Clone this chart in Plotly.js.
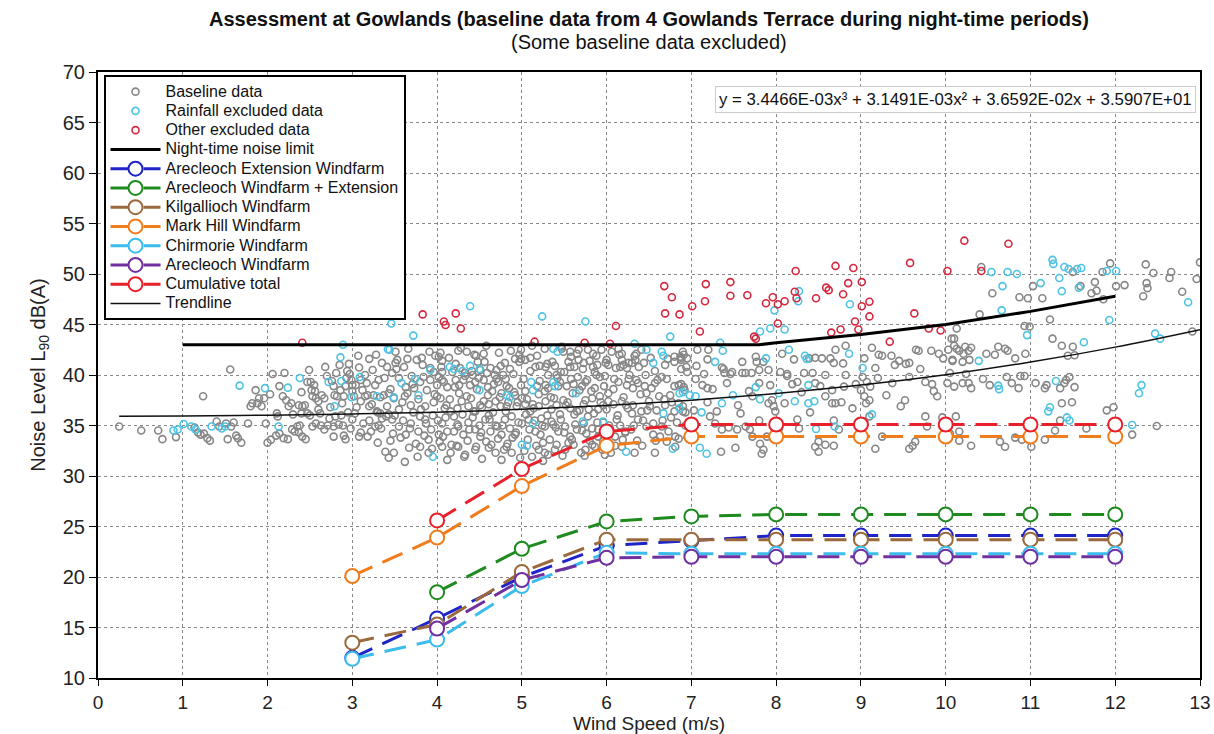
<!DOCTYPE html>
<html>
<head>
<meta charset="utf-8">
<script src="https://cdn.plot.ly/plotly-3.0.1.min.js"></script>
<style>
html,body{margin:0;padding:0;background:#fff;}
#chart{width:1214px;height:734px;}
text.legendtext{font-size:16px !important;}
</style>
</head>
<body>
<div id="chart"></div>
<script>
// ---------- DATA ----------
const windSpeeds = [3,4,5,6,7,8,9,10,11,12];
const arecleochExt   = [12.0,15.9,20.0,23.1,23.6,24.1,24.1,24.1,24.1,24.1];
const arecleochPlusExt = [null,18.5,22.8,25.5,26.0,26.2,26.2,26.2,26.2,26.2];
const kilgallioch    = [13.5,15.3,20.5,23.7,23.7,23.7,23.7,23.7,23.7,23.7];
const markHill       = [20.1,23.9,29.0,33.0,33.9,33.9,33.9,33.9,33.9,33.9];
const chirmorie      = [11.9,13.8,19.1,22.4,22.3,22.3,22.3,22.3,22.3,22.3];
const arecleoch      = [null,14.9,19.7,21.9,22.0,22.0,22.0,22.0,22.0,22.0];
const cumulative     = [null,25.6,30.7,34.4,35.1,35.1,35.1,35.1,35.1,35.1];

const limitX = [1,2,3,4,5,6,7,7.8,8,9,10,11,12];
const limitY = [43,43,43,43,43,43,43,43,43.2,44.0,45.0,46.3,47.8];

const trendX = [0.25,1,2,3,4,5,6,7,8,9,10,11,12,13];
const trendY = [35.92,35.95,36.02,36.14,36.32,36.60,36.98,37.50,38.17,39.00,40.03,41.28,42.76,44.49];

const equationText = "y = 3.4466E-03x³ + 3.1491E-03x² + 3.6592E-02x + 3.5907E+01";

// baseline points (wind speed, dB) pairs
const baselinePts = [
0.25,34.9, 0.51,34.5, 0.71,34.5, 0.76,33.65, 0.92,33.85, 1.24,37.9, 1.56,40.55, 1.21,34.1, 1.25,34.2, 1.29,33.75, 1.32,33.5, 1.14,34.8, 1.18,34.3, 1.40,35.4, 1.43,34.9, 1.51,35.2, 1.57,34.9, 1.6,35.3, 1.53,33.65, 1.65,33.75, 1.69,33.3, 1.63,34.0, 1.77,35.2, 1.8,36.9, 1.82,37.2, 1.88,37.2, 1.9,37.7, 1.86,38.5, 1.96,37.7, 1.93,36.9, 1.98,35.2, 2.0,33.3, 2.04,33.6, 2.06,40.1, 2.03,38.1, 2.14,38.9, 2.18,37.9, 2.22,37.5, 2.25,36.9, 2.28,37.2, 2.11,36.2, 2.12,35.9, 2.1,34.0, 2.14,34.2, 2.19,33.75, 2.24,33.65, 2.29,34.6, 2.35,34.9, 2.32,34.4, 2.37,34.3, 2.38,35.0, 2.37,37.0, 2.41,36.9, 2.44,37.0, 2.47,39.3, 2.49,40.5, 2.51,39.3, 2.52,38.5, 2.53,37.9, 2.56,38.4, 2.57,37.7, 2.6,37.4, 2.64,38.0, 2.67,37.7, 2.47,36.2, 2.4,36.2, 2.41,33.9, 2.45,33.65, 2.53,34.9, 2.57,35.2, 2.63,35.0, 2.67,34.6, 2.71,35.0, 2.78,33.9, 2.78,34.9, 2.73,35.7, 2.76,39.4, 2.78,38.9, 2.79,38.0, 2.82,37.9, 2.86,38.5, 2.88,37.2, 2.9,37.9, 2.92,38.9, 2.93,39.7, 2.94,40.4, 2.97,40.1, 2.99,39.5, 3.0,38.4, 3.02,37.9, 3.04,39.0, 3.08,40.75, 3.1,39.5, 3.12,38.5, 3.15,37.9, 3.18,38.0, 3.2,36.9, 3.24,40.5, 3.27,39.0, 3.31,39.5, 3.33,37.8, 3.37,38.0, 3.41,40.8, 3.43,38.2, 3.41,36.9, 2.89,35.0, 2.9,34.0, 2.84,35.1, 2.92,33.65, 2.98,34.7, 3.08,33.9, 3.18,33.9, 3.22,34.4, 3.27,34.9, 3.31,35.0, 3.33,36.2, 3.35,35.7, 3.39,32.4, 3.43,31.8, 3.29,36.4, 3.43,36.1,
4.04,42.2, 4.25,42.4, 4.35,42.3, 4.46,41.9, 4.55,42.1, 4.87,42.4, 4.99,42.5, 4.97,42.0, 5.27,42.6, 5.47,42.8, 5.49,42.3, 5.57,42.3, 5.67,42.5, 5.78,42.5, 5.84,42.1, 5.94,42.5, 6.14,42.6, 6.18,42.1, 6.35,42.1, 6.41,42.5, 6.8,41.8, 6.9,42.3, 6.88,41.7, 3.51,42.3, 3.53,41.5, 3.65,41.6, 3.76,41.5, 3.82,41.7,
4.02,41.8, 4.06,41.4, 3.92,40.7, 3.96,40.3, 4.02,39.8, 4.06,40.3, 4.22,41.1, 4.27,40.7, 4.33,40.2, 4.42,40.0, 4.48,41.3, 4.51,40.5, 4.59,40.2, 4.63,40.7, 4.68,40.0, 4.7,39.6, 4.75,40.9, 4.78,40.0, 4.81,39.6, 4.92,41.6, 4.97,41.3, 5.04,41.5, 5.1,41.7, 5.16,40.8, 5.21,40.9, 5.28,40.8, 5.31,40.0, 5.39,40.9, 5.41,40.0, 5.46,40.3, 5.55,41.3, 5.62,40.8, 5.67,41.5, 5.73,41.2, 5.8,41.4, 5.84,40.8, 5.88,40.0, 5.89,41.0, 6.0,41.5, 6.02,41.0, 6.11,40.7, 6.18,41.5, 6.2,41.0, 6.24,40.7, 6.26,41.2, 6.3,41.2, 6.34,41.5, 6.38,40.8, 6.44,41.2, 6.57,40.4, 6.65,39.8, 6.69,41.0, 6.8,41.3, 6.88,41.5, 6.94,40.8, 3.51,41.2, 3.61,40.8, 3.47,40.2,
3.55,39.7, 3.63,38.8, 3.71,39.1, 3.8,39.3, 3.92,39.5, 4.0,39.0, 4.06,39.5, 4.12,38.8, 4.22,39.5, 4.26,39.0, 4.31,39.5, 4.39,39.0, 4.45,39.3, 4.55,39.5, 4.6,38.8, 4.65,38.4, 4.72,39.3, 4.82,38.9, 4.91,38.3, 4.99,39.0, 5.04,38.4, 5.18,38.9, 5.27,38.4, 5.31,38.7, 5.45,39.3, 5.53,38.9, 5.58,39.6, 5.61,39.1, 5.71,38.9, 5.75,39.3, 5.86,38.7, 5.92,39.8, 5.97,38.9, 6.02,38.2, 6.14,39.3, 6.24,39.0, 6.31,38.7, 6.35,39.5, 6.45,38.9, 6.47,38.2, 6.53,38.7, 6.57,39.2, 6.75,38.0, 6.88,39.1, 6.92,38.5,
3.49,37.7, 3.59,37.3, 3.69,37.0, 3.78,37.6, 3.86,36.9, 3.96,37.3, 4.04,37.7, 4.09,36.7, 4.16,36.4, 4.24,36.7, 4.29,37.4, 4.37,36.9, 4.45,36.4, 4.51,37.0, 4.61,37.1, 4.69,37.4, 4.75,36.9, 4.81,36.4, 4.84,37.3, 4.94,36.9, 5.0,37.7, 5.04,37.1, 5.1,36.4, 5.2,36.9, 5.28,37.4, 5.35,36.6, 5.41,37.0, 5.49,37.5, 5.57,36.7, 5.65,36.4, 5.73,37.1, 5.83,37.7, 5.9,36.6, 5.96,37.0, 6.08,37.1, 6.18,37.4, 6.25,36.7, 6.31,37.0, 6.41,36.4, 6.51,36.9, 6.59,36.5, 6.69,37.0, 6.8,36.4, 6.9,36.4,
3.47,35.6, 3.55,34.9, 3.63,34.1, 3.69,35.2, 3.78,34.4, 3.86,35.6, 3.93,34.6, 4.02,34.1, 4.06,35.2, 4.12,34.4, 4.2,35.9, 4.25,34.9, 4.31,34.1, 4.37,35.3, 4.45,34.6, 4.51,33.9, 4.57,35.6, 4.63,34.4, 4.69,35.0, 4.76,34.1, 4.8,35.6, 4.86,34.7, 4.92,34.1, 5.0,35.2, 5.08,35.6, 5.16,34.4, 5.22,34.1, 5.27,34.9, 5.35,35.4, 5.43,34.4, 5.51,34.9, 5.57,33.9, 5.65,34.6, 5.73,35.2, 5.76,34.2, 5.83,34.7, 5.9,33.9, 5.96,35.3, 6.04,34.7, 6.1,33.9, 6.16,35.0, 6.22,34.4, 6.29,34.6, 6.37,35.6, 6.47,34.9, 6.55,34.1, 6.65,34.9, 6.73,34.4, 6.81,33.9,
3.49,32.3, 3.62,31.4, 3.67,32.8, 3.8,32.9, 3.9,32.3, 4.06,32.9, 4.16,32.3, 4.25,32.9, 4.33,32.1, 4.45,32.6, 4.53,31.7, 4.61,32.8, 4.69,32.3, 4.76,31.6, 4.82,32.9, 4.88,32.3, 5.12,31.9, 5.2,32.6, 5.25,33.3, 5.31,32.1, 5.41,33.1, 5.51,32.6, 5.61,33.1, 5.75,32.6, 5.86,32.9, 5.98,32.1, 6.04,33.1, 6.18,32.9, 6.33,32.3, 6.57,32.3, 6.71,33.4, 6.81,32.9,
3.5,36.0, 3.55,36.6, 3.6,35.5, 3.65,38.2, 3.7,39.9, 3.72,36.3, 3.75,33.2, 3.8,35.9, 3.83,41.0, 3.85,34.0, 3.88,38.5, 3.9,33.6, 3.95,36.0, 3.98,41.9, 4.0,37.9, 4.03,33.4, 4.08,39.3, 4.1,35.8, 4.12,31.6, 4.15,37.6, 4.18,40.3, 4.2,34.4, 4.23,33.0, 4.26,38.2, 4.3,36.1, 4.33,39.9, 4.36,33.5, 4.4,37.7, 4.42,35.8, 4.44,42.0, 4.47,38.6, 4.5,35.0, 4.53,36.8, 4.56,41.3, 4.58,33.4, 4.6,38.0, 4.62,35.6, 4.66,36.3, 4.7,40.5, 4.72,33.7, 4.74,37.8, 4.77,35.0, 4.8,41.2, 4.83,33.2, 4.85,38.7, 4.88,35.9, 4.9,40.1, 4.93,34.3, 4.95,37.3, 4.98,31.8, 5.02,39.6, 5.05,36.1, 5.07,33.6, 5.1,40.4, 5.13,37.1, 5.15,35.5, 5.18,41.9, 5.2,38.1, 5.23,35.7, 5.25,31.5, 5.28,39.0, 5.3,36.0, 5.33,33.6, 5.36,41.3, 5.38,37.7, 5.4,34.8, 5.43,38.9, 5.46,35.6, 5.48,32.0, 5.5,40.3, 5.52,37.0, 5.55,33.3, 5.58,41.8, 5.6,38.2, 5.63,35.1, 5.66,39.8, 5.68,36.5, 5.7,32.3, 5.72,40.6, 5.75,37.5, 5.78,35.9, 5.8,33.5, 5.82,38.4, 5.85,36.2, 5.88,41.9, 5.9,34.6, 5.92,37.9, 5.95,32.6, 5.98,39.9, 6.0,36.6, 6.03,35.0, 6.06,42.3, 6.08,38.6, 6.1,33.0, 6.13,36.0, 6.16,40.8, 6.2,37.8, 6.22,34.3, 6.26,39.6, 6.3,36.2, 6.33,41.9, 6.36,33.5, 6.4,38.1, 6.43,35.5, 6.46,40.0, 6.5,37.4, 6.55,35.2, 6.6,39.5, 6.63,33.9, 6.68,37.6, 6.72,41.6, 6.76,35.8, 6.8,38.9, 6.85,33.7, 6.9,36.9, 6.95,40.3, 2.95,36.3, 3.0,35.6, 3.05,36.8, 3.1,34.3, 3.15,40.0, 3.2,35.5, 3.25,38.0, 3.3,33.3, 3.35,41.2, 3.4,35.9, 3.45,38.6, 3.48,34.2, 3.0,39.0, 3.1,37.4, 3.2,41.6, 3.3,36.3, 2.6,36.6, 2.7,39.9, 2.8,35.9, 2.85,41.0, 2.5,36.0, 2.4,38.3, 2.3,36.1, 2.2,40.2,
3.52,40.6, 3.57,33.8, 3.62,37.9, 3.66,42.6, 3.68,34.7, 3.73,38.7, 3.77,31.9, 3.81,36.6, 3.84,39.8, 3.87,35.2, 3.91,42.3, 3.94,32.7, 3.97,38.1, 4.01,35.5, 4.05,40.8, 4.07,33.9, 4.11,37.0, 4.14,41.7, 4.17,33.1, 4.21,38.8, 4.24,35.1, 4.28,42.7, 4.32,31.9, 4.35,37.9, 4.38,34.6, 4.41,40.4, 4.43,36.4, 4.46,32.9, 4.49,39.7, 4.52,34.3, 4.55,37.4, 4.58,42.9, 4.61,36.0, 4.64,33.1, 4.67,39.1, 4.71,34.9, 4.73,42.2, 4.76,38.2, 4.79,32.6, 4.82,36.9, 4.86,40.6, 4.89,33.8, 4.92,38.0, 4.96,35.3, 4.99,41.6, 5.03,32.5, 5.06,37.6, 5.09,34.6, 5.12,42.9, 5.14,36.7, 5.17,33.0, 5.21,39.4, 5.24,35.0, 5.27,32.3, 5.3,41.1, 5.34,37.8, 5.37,35.1, 5.39,32.6, 5.42,39.7, 5.45,36.1, 5.47,42.6, 5.5,34.3, 5.54,37.3, 5.57,40.8, 5.59,33.6, 5.62,36.1, 5.65,42.1, 5.68,38.5, 5.71,34.5, 5.74,32.0, 5.77,39.5, 5.79,36.6, 5.83,33.1, 5.86,40.3, 5.89,35.3, 5.93,37.3, 5.96,33.5, 5.99,41.2, 6.02,37.4, 6.05,32.3, 6.09,39.6, 6.12,35.6, 6.15,42.0, 6.19,33.6, 6.23,37.0, 6.27,40.0, 6.32,35.0, 6.37,39.2, 6.42,33.0, 6.48,36.5, 6.52,41.7, 6.58,33.5, 6.62,37.9, 6.66,35.5, 6.71,39.6, 6.77,37.3, 6.83,35.3, 6.88,40.6, 6.93,35.0, 2.55,39.0, 2.62,36.2, 2.68,40.8, 2.74,36.8, 2.81,40.2, 2.87,36.0, 2.96,41.1, 3.03,36.2, 3.07,41.9, 3.13,35.2, 3.17,39.2, 3.23,37.1, 3.28,42.0, 3.34,34.7, 3.38,39.7, 3.45,33.5, 7.05,39.6, 7.15,40.1, 7.25,38.6, 7.3,36.4, 7.42,39.2, 7.55,37.0, 7.58,36.2, 7.68,38.4, 7.72,37.9, 8.1,37.2, 8.3,38.3, 8.4,36.3, 8.52,38.9, 8.9,36.7, 9.3,38.0, 9.4,41.0, 9.52,37.5, 9.7,40.6, 9.86,38.4,
6.87,41.8, 6.91,42.0, 6.95,41.65, 7.07,42.5, 7.2,42.5, 7.06,40.9, 7.19,41.55, 7.36,40.75, 7.39,40.2, 7.46,40.1, 7.6,41.3, 7.6,40.2, 7.76,41.8, 7.77,41.3, 7.85,41.3, 7.91,40.5, 7.8,40.5, 8.07,42.1, 8.13,40.1, 8.21,41.55, 8.39,41.65, 8.46,41.7, 8.54,41.65, 8.64,41.65, 8.68,41.2, 8.79,41.15, 8.82,42.9, 8.7,42.5, 9.04,41.65, 9.13,42.7, 9.21,42.0, 9.25,41.9, 9.36,41.9, 9.45,41.4, 9.53,41.1, 9.57,41.2, 9.65,42.5, 9.68,42.4, 9.83,42.4, 9.92,42.1, 9.97,41.65, 10.03,42.5, 10.08,41.4,
6.85,39.0, 6.91,38.8, 7.13,39.0, 7.19,38.7, 7.38,40.6, 7.48,40.3, 7.64,40.2, 7.71,40.2, 7.8,39.2, 7.93,39.0, 7.95,37.5, 8.05,40.3, 8.13,39.9, 8.19,39.1, 8.25,39.3, 8.33,40.2, 8.43,40.2, 8.46,39.2, 8.58,40.0, 8.66,38.5, 8.58,37.9, 8.7,37.2, 8.8,38.85, 8.77,37.3, 8.66,37.2, 8.82,40.0, 8.94,39.1, 9.0,38.5, 9.02,39.8, 9.07,39.3, 9.11,38.85, 9.17,40.7, 9.2,39.7, 9.04,37.9, 9.06,37.2, 9.1,37.5, 9.37,39.2, 9.47,36.9, 9.57,39.8, 9.76,39.3, 9.84,39.1, 9.9,37.9, 10.02,39.2, 10.1,38.85, 10.07,43.6, 10.1,42.9,
6.85,37.2, 6.93,36.3, 7.03,36.5, 7.19,37.3, 7.22,35.9, 7.28,35.2, 7.36,34.6, 7.44,34.8, 7.54,34.6, 7.64,34.9, 7.69,34.6, 7.8,35.5, 7.81,33.2, 7.85,32.6, 7.83,32.2, 7.89,33.9, 7.91,37.2, 7.97,36.9, 7.99,36.4, 8.27,34.7, 8.5,32.4, 8.58,33.1, 8.5,33.4, 8.46,32.9, 8.68,33.0, 8.68,35.5, 8.74,34.6, 9.04,35.4, 9.1,35.9, 9.17,32.7, 9.25,33.9, 9.57,32.7, 9.61,33.0, 9.64,33.4, 9.78,34.9, 9.76,35.9, 9.96,35.8, 9.98,34.9, 10.12,35.9, 10.16,34.4, 8.25,35.6, 8.03,34.6, 7.35,32.4, 7.52,32.8, 7.72,33.9,
11.94,51.05, 12.36,50.95, 12.45,50.1, 12.66,50.2, 12.64,49.6, 13.0,51.15, 12.96,49.5, 12.37,49.1, 12.38,48.6, 12.33,47.8, 12.79,48.25, 12.11,48.9, 12.01,48.8, 11.85,50.2, 11.76,49.2, 11.78,48.35, 11.72,48.1, 11.86,47.5, 11.59,48.8, 11.5,50.2, 11.03,48.8, 10.97,47.6, 10.87,47.7, 11.14,47.6, 10.55,48.1, 10.4,46.0, 11.23,45.5, 10.93,44.85, 10.99,44.8, 10.42,50.7, 10.13,44.6, 10.1,43.6, 10.13,42.6, 10.16,42.4, 10.23,42.8, 10.21,42.1, 10.27,42.4, 10.3,42.7, 10.28,41.5, 10.2,41.3, 10.08,41.5, 10.48,42.1, 10.58,42.0, 10.62,42.8, 10.7,42.6, 10.73,42.4, 10.82,41.65, 10.94,42.1, 11.26,43.6, 11.37,42.9, 11.5,42.8, 11.44,41.9, 11.52,41.95, 12.91,44.3,
10.05,40.2, 10.24,40.1, 10.2,39.2, 10.27,39.2, 10.3,38.7, 10.44,39.6, 10.52,39.0, 10.72,39.8, 10.78,39.2, 10.86,38.7, 10.88,39.9, 10.93,39.9, 11.06,39.2, 11.17,38.7, 11.19,39.0, 11.35,38.7, 11.4,39.2, 11.46,39.8, 11.52,38.8, 11.42,39.5, 11.37,37.2, 11.49,37.3, 11.35,35.5, 11.29,34.5, 11.66,34.7, 11.9,36.5, 11.98,36.8, 12.2,34.1, 12.49,34.95, 10.64,33.4, 10.7,32.9, 10.3,33.0, 10.16,33.5, 11.01,32.9, 11.17,33.6, 10.9,33.6, 10.82,33.8, 10.05,34.2
];

const rainfallPts = [
3.46,45.1, 2.89,43.0, 3.42,42.55, 2.86,41.75, 1.67,38.95, 1.97,38.7, 2.24,38.75, 2.38,39.7, 2.72,39.3, 2.87,39.4, 3.09,39.8, 3.29,37.9, 3.49,37.8, 2.99,37.8, 2.79,36.9, 0.89,34.5, 0.94,34.6, 1.01,35.15, 1.10,34.9, 1.15,34.6, 1.34,34.9, 1.46,34.7, 1.5,34.9, 2.13,34.9,
4.39,46.8, 3.72,43.9, 5.24,45.8, 5.75,45.3, 6.75,43.8, 6.33,43.1, 5.37,42.6, 5.42,42.3, 4.15,40.8, 4.2,40.6, 4.39,40.9, 4.5,40.6, 4.3,40.4, 3.92,40.5, 3.74,39.6, 3.58,39.2, 3.78,38.0, 4.5,38.5, 4.82,38.0, 4.86,37.8, 5.11,39.3, 5.13,38.5, 5.37,39.3, 5.39,38.9, 5.64,38.2, 5.13,35.2, 5.0,33.1, 5.06,33.0, 3.95,31.9, 5.72,35.4, 6.65,42.3, 6.67,41.9, 6.55,41.2, 6.86,38.2, 6.86,36.7, 6.67,36.2, 6.78,32.7, 6.23,32.4, 5.96,35.4, 6.47,42.5, 3.44,42.5,
7.98,46.4, 7.93,44.6, 7.81,44.3, 8.1,44.5, 8.27,48.3, 8.26,47.3, 8.87,47.0, 7.34,43.2, 7.37,42.4, 7.28,41.3, 7.88,41.65, 8.15,42.5, 8.34,41.9, 8.36,41.6, 8.86,42.1, 9.02,40.7, 8.38,39.0, 8.22,37.4, 8.38,37.2, 8.45,37.4, 7.81,37.6, 7.76,38.8, 7.49,38.0, 7.36,37.2, 6.98,38.0, 7.05,37.9, 6.9,38.3, 7.12,36.3, 7.1,32.8, 7.18,32.2, 9.13,36.1, 8.47,34.65, 8.69,34.9, 8.03,38.2,
11.26,51.4, 11.27,51.0, 11.4,50.7, 11.45,50.5, 11.6,50.6, 11.55,50.5, 10.54,50.2, 10.73,50.2, 10.84,50.0, 12.01,50.3, 11.9,50.3, 10.67,48.8, 11.12,49.1, 11.34,49.6, 11.37,48.3, 11.57,48.65, 10.66,46.4, 11.93,45.45, 10.96,43.95, 11.63,43.25, 12.47,44.1, 12.53,43.6, 12.86,47.2, 10.39,41.4, 10.62,38.95, 10.63,38.6, 11.3,39.4, 12.31,39.0, 12.28,38.2, 11.23,36.8, 11.21,36.4, 11.43,35.8, 11.46,35.5, 12.2,35.05
];

const otherPts = [
2.41,43.2, 3.83,46.0, 4.08,45.3, 4.10,44.95, 4.22,46.1, 4.28,44.6, 5.15,43.3, 5.74,43.2, 6.04,43.1, 6.11,44.85, 6.68,48.8, 6.77,47.7, 6.69,46.1, 6.86,46.0, 7.01,46.8, 7.17,49.0, 7.16,47.3, 7.1,44.3, 7.46,49.2, 7.46,47.85, 7.66,47.9, 7.88,47.1, 7.96,47.7, 8.02,47.0, 8.1,47.3, 8.22,48.25, 8.24,47.6, 8.02,45.1, 7.76,43.6, 7.74,43.8, 8.23,50.3, 8.47,47.6, 8.59,48.65, 8.62,48.4, 8.70,50.8, 8.79,48.0, 8.85,49.1, 8.91,50.6, 9.01,49.2, 9.10,47.25, 9.01,46.8, 9.10,45.8, 8.93,45.3, 8.97,44.5, 8.76,44.5, 8.65,44.2, 9.34,43.3, 9.58,51.1, 9.63,46.1, 9.80,44.6, 9.94,44.4, 10.02,50.3, 10.22,53.3, 10.74,53.0, 10.42,50.3
];

// ---------- BUILD ----------
function split(arr){ const x=[],y=[]; for(let i=0;i<arr.length;i+=2){x.push(arr[i]);y.push(arr[i+1]);} return {x,y}; }
const FONT = "Arial, 'Liberation Sans', sans-serif";
const base = split(baselinePts), rain = split(rainfallPts), other = split(otherPts);

function pts(name, d, col){
  return {type:'scatter', mode:'markers', name, x:d.x, y:d.y,
    marker:{symbol:'circle-open', size:7, color:col, line:{width:1.6, color:col}}};
}
function farm(name, ys, col){
  return {type:'scatter', mode:'lines+markers', name, x:windSpeeds, y:ys, connectgaps:false,
    line:{color:col, width:3, dash:'22px,11px'},
    marker:{symbol:'circle', size:14, color:'#ffffff', line:{color:col, width:2}}};
}

const traces = [
  pts('Baseline data', base, '#878787'),
  pts('Rainfall excluded data', rain, '#4fc3e3'),
  pts('Other excluded data', other, '#d4283f'),
  {type:'scatter', mode:'lines', name:'Night-time noise limit', x:limitX, y:limitY, line:{color:'#000', width:3}},
  farm('Arecleoch Extension Windfarm', arecleochExt, '#1f24c8'),
  farm('Arecleoch Windfarm + Extension', arecleochPlusExt, '#1f8a1f'),
  farm('Kilgallioch Windfarm', kilgallioch, '#9a6a3e'),
  farm('Mark Hill Windfarm', markHill, '#f07c1c'),
  farm('Chirmorie Windfarm', chirmorie, '#3cbcec'),
  farm('Arecleoch Windfarm', arecleoch, '#7030a0'),
  farm('Cumulative total', cumulative, '#e8202a'),
  {type:'scatter', mode:'lines', name:'Trendline', x:trendX, y:trendY, line:{color:'#111', width:1.5, shape:'spline'}}
];

const layout = {
  width:1214, height:734,
  margin:{l:98, r:14, t:72, b:56},
  paper_bgcolor:'#fff', plot_bgcolor:'#fff',
  font:{family:FONT, color:'#222', size:14},
  showlegend:true,
  legend:{x:0.005, y:0.995, xanchor:'left', yanchor:'top', bgcolor:'#fff', bordercolor:'#000', borderwidth:2,
    font:{family:FONT, size:12.5, color:'#111'}, tracegroupgap:0, itemwidth:50},
  xaxis:{range:[0,13], dtick:1, tick0:0, showgrid:true, gridcolor:'#888', griddash:'dot', gridwidth:1,
    showline:true, linecolor:'#000', linewidth:2, mirror:true, ticks:'outside', ticklen:6, tickcolor:'#000',
    tickfont:{family:FONT, size:19, color:'#222'}, zeroline:false,
    title:{text:'Wind Speed (m/s)', font:{family:FONT, size:19, color:'#222'}, standoff:0}},
  yaxis:{range:[10,70], dtick:5, tick0:10, showgrid:true, gridcolor:'#888', griddash:'dot', gridwidth:1,
    showline:true, linecolor:'#000', linewidth:2, mirror:true, ticks:'outside', ticklen:7, tickcolor:'#000',
    tickfont:{family:FONT, size:20, color:'#222'}, zeroline:false,
    title:{text:'Noise Level L<sub>90</sub> dB(A)', font:{family:FONT, size:20, color:'#222'}, standoff:12}},
  annotations:[
    {xref:'paper', yref:'paper', x:0.5, y:1, yshift:53, xanchor:'center', yanchor:'middle', showarrow:false,
     text:'<b>Assessment at Gowlands (baseline data from 4 Gowlands Terrace during night-time periods)</b>',
     font:{family:FONT, size:20, color:'#111'}},
    {xref:'paper', yref:'paper', x:0.5, y:1, yshift:30, xanchor:'center', yanchor:'middle', showarrow:false,
     text:'(Some baseline data excluded)', font:{family:FONT, size:20, color:'#111'}},
    {xref:'paper', yref:'paper', x:0.9965, y:0.954, xanchor:'right', yanchor:'middle', showarrow:false,
     text:equationText, font:{family:FONT, size:16.8, color:'#111'}, bgcolor:'#fff', bordercolor:'#ccc', borderwidth:1, borderpad:3}
  ]
};

Plotly.newPlot('chart', traces, layout, {staticPlot:true, displayModeBar:false});
</script>
</body>
</html>
